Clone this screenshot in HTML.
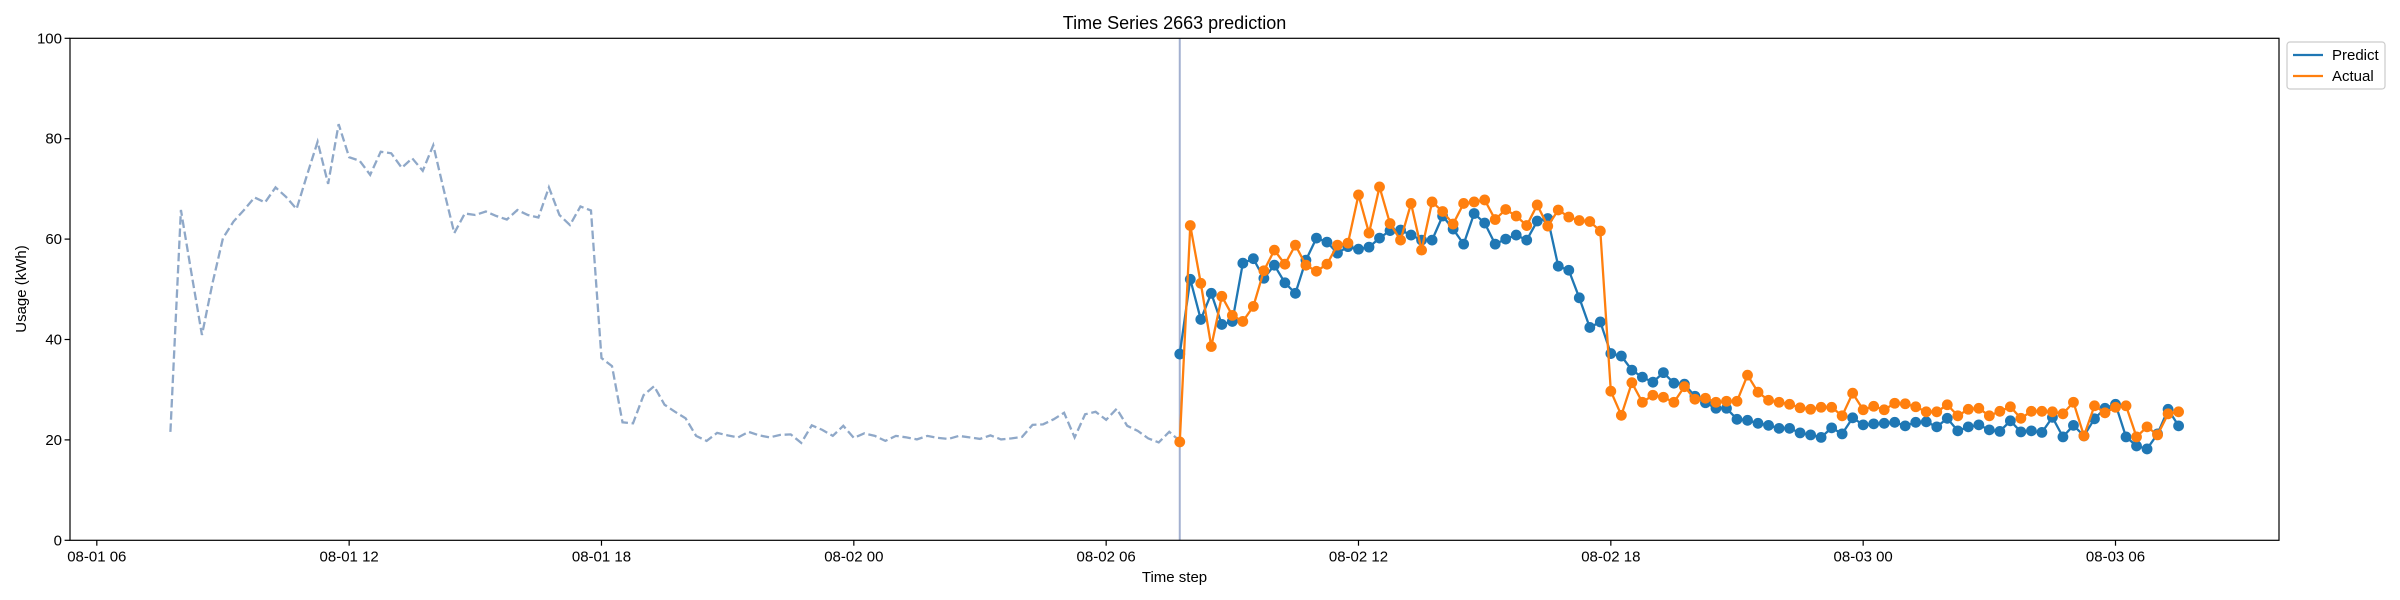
<!DOCTYPE html>
<html><head><meta charset="utf-8"><title>Time Series 2663 prediction</title>
<style>
html,body{margin:0;padding:0;background:#fff;}
svg{display:block;font-family:"Liberation Sans","DejaVu Sans",sans-serif;}
</style></head>
<body>
<svg id="chart" width="2400" height="600" viewBox="0 0 2400 600" xmlns="http://www.w3.org/2000/svg">
<rect width="2400" height="600" fill="#fff"/>
<text x="1174.5" y="29" font-size="18" text-anchor="middle" fill="#000">Time Series 2663 prediction</text>
<g id="grid"></g>
<g id="series"></g>
<rect x="70" y="38.3" width="2209" height="502" fill="none" stroke="#000" stroke-width="1.2"/>
<text transform="translate(26,289) rotate(-90)" font-size="15" text-anchor="middle" fill="#000">Usage (kWh)</text>
<text x="1174.5" y="582" font-size="15" text-anchor="middle" fill="#000">Time step</text>
<g>
<rect x="2287" y="42" width="98" height="47" rx="3" fill="#fff" stroke="#ccc" stroke-width="1.2"/>
<g>
<line x1="2293" y1="55" x2="2323" y2="55" stroke="#1f77b4" stroke-width="2.3"/>
<text x="2332" y="60" font-size="15" fill="#000">Predict</text>
</g>
<g>
<line x1="2293" y1="76" x2="2323" y2="76" stroke="#ff7f0e" stroke-width="2.3"/>
<text x="2332" y="81" font-size="15" fill="#000">Actual</text>
</g>
</g>
</svg>
<script>
const historyValues = [21.6,65.8,53.2,40.9,51.2,60.2,63.5,65.8,68.3,67.3,70.3,68.4,66.0,72.8,79.4,71.0,82.9,76.3,75.6,72.8,77.4,77.1,74.2,76.1,73.6,78.7,69.8,61.2,65.1,64.8,65.5,64.6,63.9,65.8,64.8,64.3,70.3,64.8,62.8,66.5,65.7,36.3,34.7,23.5,23.3,28.9,30.7,27.0,25.6,24.3,20.8,19.8,21.4,20.9,20.5,21.6,20.9,20.5,21.0,21.1,19.4,22.9,22.0,20.8,22.8,20.4,21.3,20.8,19.8,20.8,20.5,20.1,20.8,20.4,20.2,20.8,20.5,20.2,20.9,20.1,20.3,20.6,23.0,23.1,24.1,25.4,20.5,25.1,25.6,24.0,26.2,22.8,21.8,20.3,19.5,21.6,19.8];
const predictValues = [37.1,52.0,44.0,49.2,43.0,43.6,55.2,56.1,52.2,54.8,51.3,49.2,55.8,60.2,59.4,57.2,58.5,58.0,58.4,60.2,61.7,61.8,60.8,59.8,59.8,64.6,62.0,59.0,65.1,63.2,59.0,60.0,60.8,59.8,63.6,64.1,54.6,53.8,48.3,42.4,43.5,37.2,36.7,33.9,32.5,31.5,33.4,31.3,31.1,28.7,27.4,26.3,26.3,24.1,23.9,23.3,22.9,22.3,22.3,21.4,21.0,20.5,22.4,21.2,24.4,23.0,23.2,23.3,23.5,22.8,23.5,23.6,22.6,24.3,21.8,22.6,23.0,22.0,21.7,23.8,21.6,21.8,21.5,24.5,20.6,22.9,20.8,24.2,26.3,27.1,20.6,18.8,18.2,21.2,26.1,22.8];
const actualValues = [19.6,62.7,51.2,38.6,48.6,44.8,43.6,46.6,53.7,57.8,55.0,58.8,54.8,53.6,55.0,58.8,59.2,68.8,61.2,70.4,63.1,59.8,67.1,57.8,67.4,65.5,63.0,67.1,67.4,67.8,63.9,65.9,64.6,62.7,66.8,62.6,65.8,64.4,63.7,63.5,61.6,29.7,24.9,31.4,27.5,28.9,28.5,27.5,30.6,28.1,28.3,27.5,27.7,27.7,32.9,29.5,27.9,27.5,27.1,26.4,26.1,26.5,26.5,24.8,29.3,26.0,26.7,26.0,27.3,27.2,26.6,25.6,25.6,27.0,24.8,26.1,26.3,24.8,25.7,26.6,24.3,25.7,25.7,25.6,25.2,27.5,20.8,26.8,25.4,26.5,26.8,20.6,22.6,21.0,25.2,25.6];
const yTicks = [0,20,40,60,80,100];
const xTickHours = [0,6,12,18,24,30,36,42,48];
const xTickLabels = ['08-01 06','08-01 12','08-01 18','08-02 00','08-02 06','08-02 12','08-02 18','08-03 00','08-03 06'];
const historyStartHour = 1.75;
const predictStartHour = 25.75;
const stepHours = 0.25;

const NS = 'http://www.w3.org/2000/svg';
const X0 = 70, X1 = 2279, Y0 = 540.3, Y1 = 38.3;
const H_MIN = -0.6375, H_MAX = 51.8875;
function xScale(h){ return X0 + (h - H_MIN) / (H_MAX - H_MIN) * (X1 - X0); }
function yScale(v){ return Y0 - v / 100 * (Y0 - Y1); }
function mk(tag, attrs, parent){
  const e = document.createElementNS(NS, tag);
  for (const k in attrs) e.setAttribute(k, attrs[k]);
  parent.appendChild(e);
  return e;
}
const grid = document.getElementById('grid');
const series = document.getElementById('series');

yTicks.forEach(v => {
  const y = yScale(v);
  const t = mk('line', {x1: X0 - 5.4, x2: X0, y1: y, y2: y, stroke: '#000', 'stroke-width': 1.2}, grid);
  
  
  const l = mk('text', {x: X0 - 8, y: y + 5, 'font-size': 15, 'text-anchor': 'end', fill: '#000'}, grid);
  l.textContent = String(v);
  
  
});
xTickHours.forEach((h, i) => {
  const x = xScale(h);
  const t = mk('line', {x1: x, x2: x, y1: Y0, y2: Y0 + 5.4, stroke: '#000', 'stroke-width': 1.2}, grid);
  
  
  const l = mk('text', {x: x, y: Y0 + 21, 'font-size': 15, 'text-anchor': 'middle', fill: '#000'}, grid);
  l.textContent = xTickLabels[i];
  
  
});

// history dashed line
const hp = historyValues.map((v, j) => xScale(historyStartHour + j * stepHours).toFixed(2) + ',' + yScale(v).toFixed(2)).join(' ');
const hist = mk('polyline', {points: hp, fill: 'none', stroke: '#8fa8c8', 'stroke-width': 2.3, 'stroke-dasharray': '8.5,3.7'}, series);



// forecast start vertical line
const vx = xScale(predictStartHour);
const vl = mk('line', {x1: vx, x2: vx, y1: Y1, y2: Y0, stroke: '#a3b0d0', 'stroke-width': 2}, series);



function drawSeries(vals, color, name){
  const pts = vals.map((v, i) => [xScale(predictStartHour + i * stepHours), yScale(v)]);
  const pl = mk('polyline', {points: pts.map(p => p[0].toFixed(2) + ',' + p[1].toFixed(2)).join(' '), fill: 'none', stroke: color, 'stroke-width': 2.3}, series);
  
  
  pts.forEach(p => {
    const c = mk('circle', {cx: p[0].toFixed(2), cy: p[1].toFixed(2), r: 5.4, fill: color}, series);
    
    
  });
}
drawSeries(predictValues, '#1f77b4', 'predict');
drawSeries(actualValues, '#ff7f0e', 'actual');
</script>
</body></html>
